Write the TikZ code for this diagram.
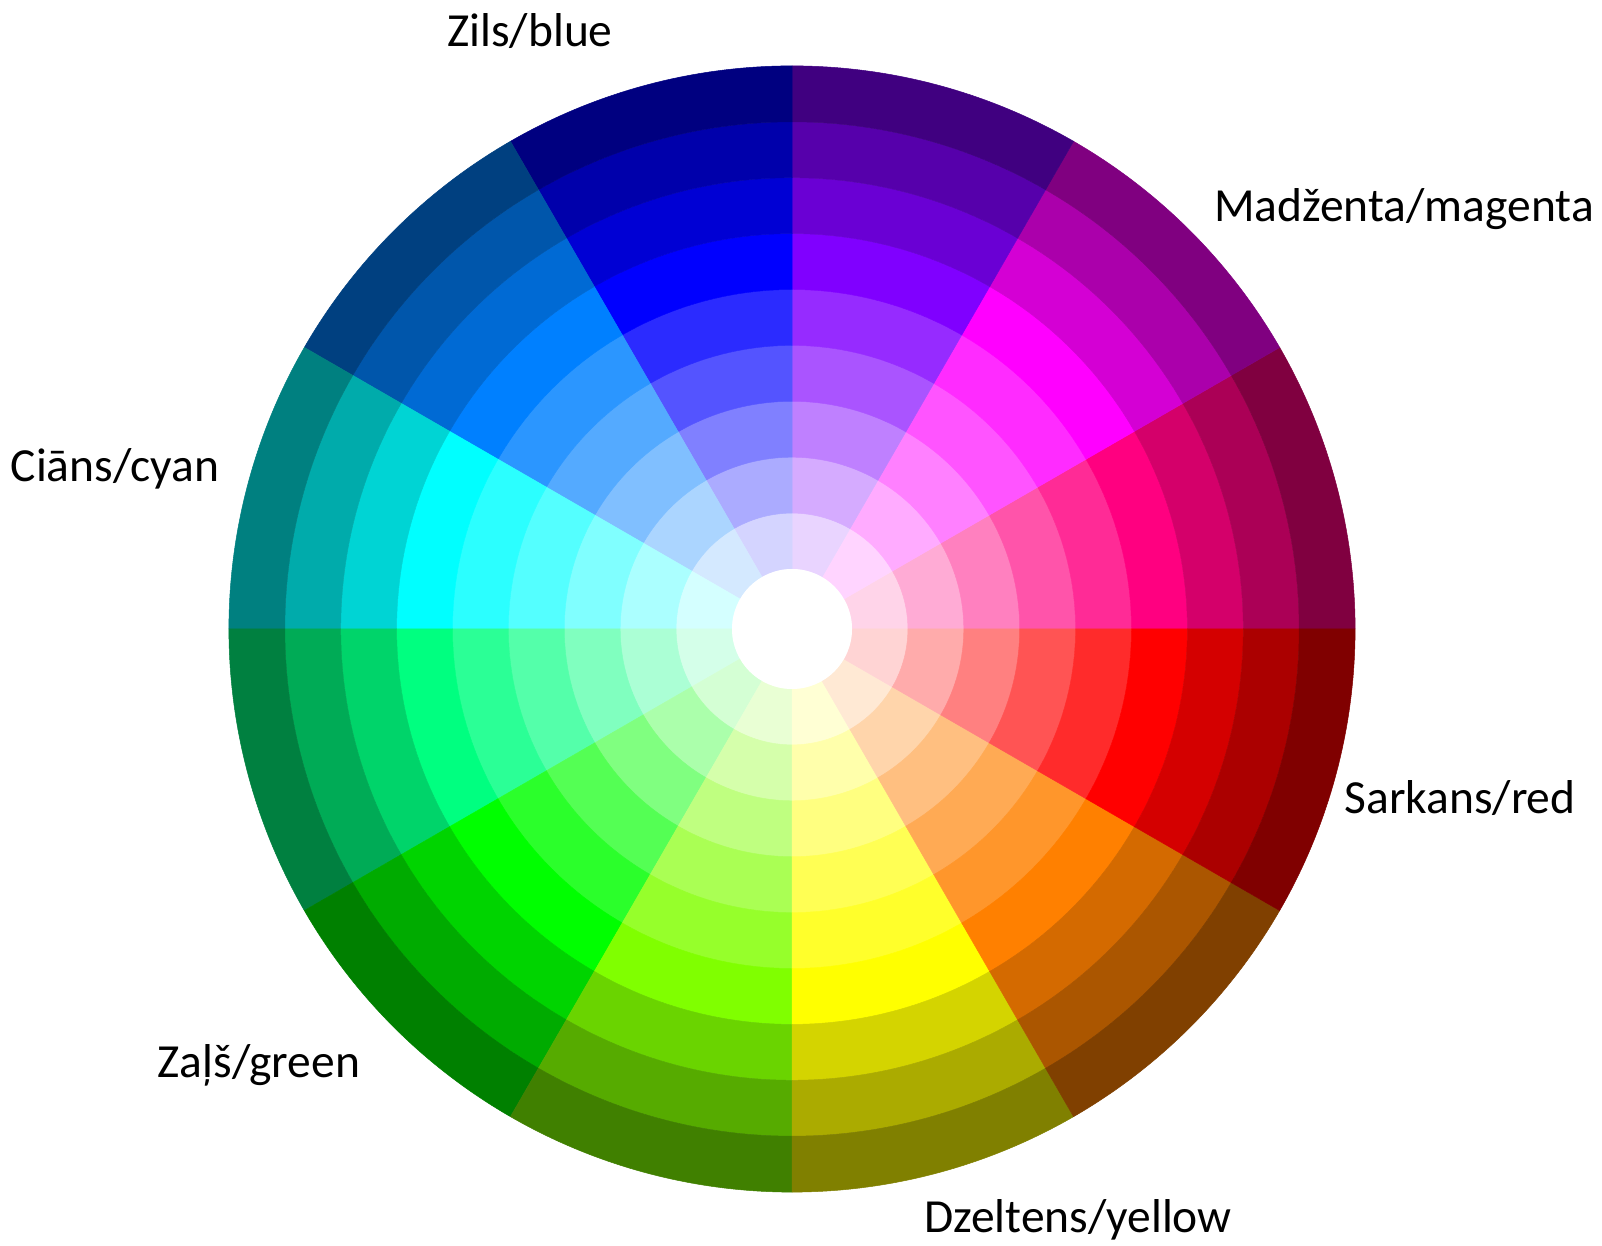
\documentclass[tikz,border=0pt]{standalone}
\usepackage{fontspec}
\setmainfont{Carlito}

\begin{document}
\begin{tikzpicture}[x=1pt, y=1pt, font=\fontsize{47.5}{57}\selectfont,
  lbl/.style={anchor=base, inner sep=0pt}]
  \useasboundingbox (0,0) rectangle (1602,1246);
  \coordinate (c) at (792,617);
  % twelve hues, nine rings each: tints inside, pure hue, shades outside
  \foreach \a/\hex in {0/FF0080, 30/FF00FF, 60/8000FF, 90/0000FF, 120/0080FF, 150/00FFFF,
                       180/00FF80, 210/00FF00, 240/80FF00, 270/FFFF00, 300/FF8000, 330/FF0000}{
    \definecolor{huecol}{HTML}{\hex}
    \foreach \k/\p/\m in {1/17/white, 2/33/white, 3/50/white, 4/67/white, 5/83/white,
                          6/100/white, 7/83/black, 8/67/black, 9/50/black}{
      \pgfmathsetmacro\ri{60+(\k-1)*55.9}
      \pgfmathsetmacro\ro{60+\k*55.9}
      \filldraw[shift={(c)}, fill=huecol!\p!\m, draw=huecol!\p!\m, line width=0.5pt]
        (\a:\ri) arc[start angle=\a, end angle=\a+30, radius=\ri]
        -- (\a+30:\ro) arc[start angle=\a+30, end angle=\a, radius=\ro] -- cycle;
    }
  }
  \fill[white] (c) circle[radius=60];
  \node[lbl] (blue) at (530,1199) {Zils/blue};
  \node[lbl] (magenta) at (1404,1024) {Madženta/magenta};
  \node[lbl] (cyan) at (115,764) {Ciāns/cyan};
  \node[lbl] (red) at (1460,432) {Sarkans/red};
  \node[lbl] (green) at (259,168) {Zaļš/green};
  \node[lbl] (yellow) at (1078,13) {Dzeltens/yellow};
\end{tikzpicture}
\end{document}
